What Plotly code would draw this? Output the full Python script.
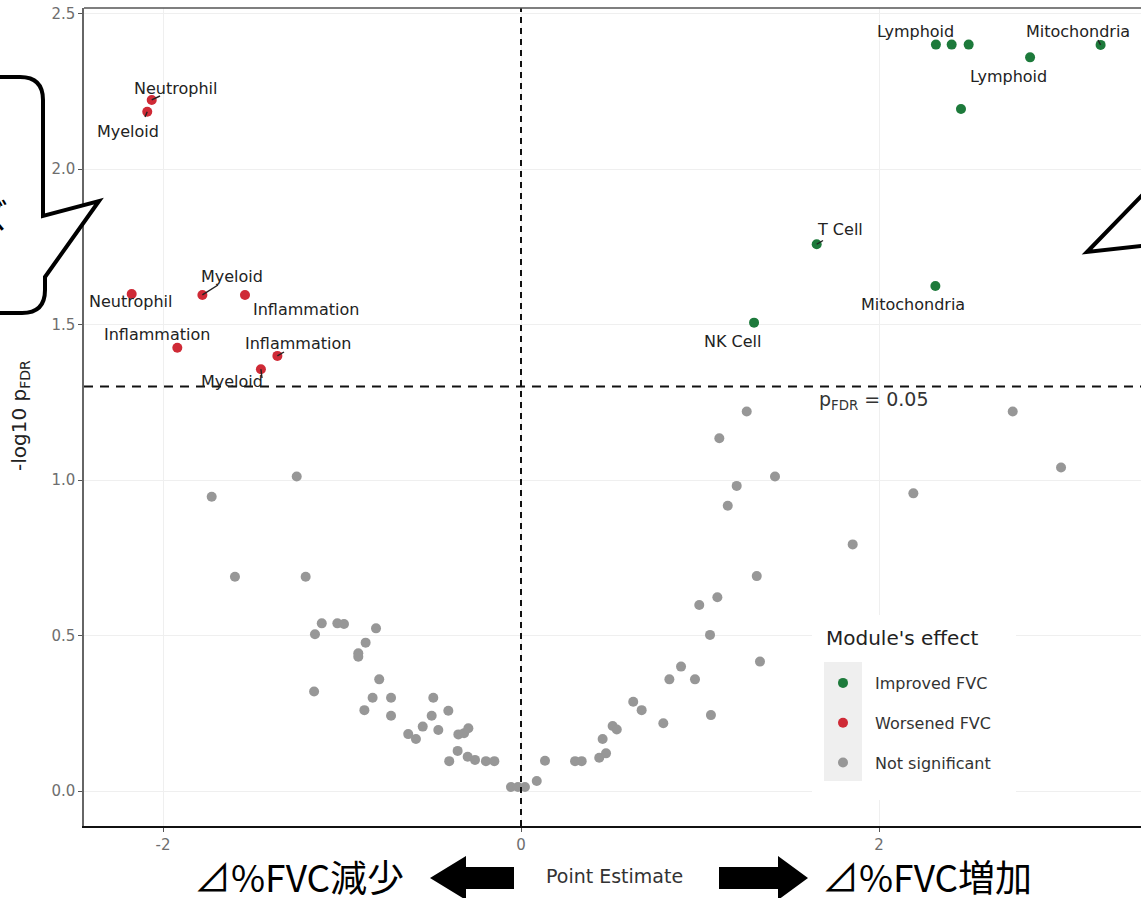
import math
import plotly.graph_objects as go

# ---------------- data ----------------
gray_x = [-1.728, -1.253, -1.598, -1.203, -1.113, -1.151, -1.026, -0.989, -0.810, -0.868,
          -0.909, -0.909, -1.156, -0.792, -0.829, -0.726, -0.875, -0.726, -0.490, -0.499,
          -0.406, -0.549, -0.462, -0.630, -0.587, -0.350, -0.318, -0.294, -0.354, -0.401,
          -0.298, -0.257, -0.196, -0.149,
          -0.056, -0.017, 0.022, 0.088, 0.134,
          0.302, 0.339, 0.437, 0.475, 0.456, 0.512, 0.535, 0.627, 0.674, 0.795,
          0.829, 0.894, 0.972, 1.061, 1.056, 0.996, 1.097, 1.335, 1.317, 1.261,
          1.108, 1.419, 1.205, 1.155, 1.853, 2.192, 2.747, 3.017]
gray_y = [0.946, 1.011, 0.689, 0.689, 0.539, 0.504, 0.539, 0.537, 0.523, 0.477,
          0.443, 0.432, 0.320, 0.359, 0.300, 0.300, 0.260, 0.242, 0.300, 0.242,
          0.258, 0.207, 0.196, 0.183, 0.167, 0.182, 0.186, 0.202, 0.129, 0.096,
          0.110, 0.100, 0.096, 0.096,
          0.013, 0.013, 0.013, 0.032, 0.097,
          0.096, 0.096, 0.107, 0.121, 0.167, 0.209, 0.198, 0.287, 0.260, 0.218,
          0.359, 0.400, 0.359, 0.244, 0.502, 0.598, 0.623, 0.416, 0.691, 1.220,
          1.134, 1.011, 0.981, 0.917, 0.793, 0.957, 1.220, 1.040]

red_x = [-2.063, -2.088, -2.175, -1.780, -1.542, -1.920, -1.361, -1.453]
red_y = [2.222, 2.184, 1.598, 1.595, 1.595, 1.425, 1.399, 1.356]
red_labels = ["Neutrophil", "Myeloid", "Neutrophil", "Myeloid", "Inflammation",
              "Inflammation", "Inflammation", "Myeloid"]

green_x = [2.318, 2.406, 2.501, 3.238, 2.844, 2.458, 1.652, 2.315, 1.302]
green_y = [2.400, 2.400, 2.400, 2.399, 2.359, 2.193, 1.758, 1.624, 1.506]
green_labels = ["Lymphoid", "", "", "Mitochondria", "Lymphoid", "", "T Cell",
                "Mitochondria", "NK Cell"]

legend_title = "Module's effect"
legend_names = ["Improved FVC", "Worsened FVC", "Not significant"]
x_ticks = [-2, 0, 2]
y_ticks = [0.0, 0.5, 1.0, 1.5, 2.0, 2.5]
p_threshold = 0.05

# ---------------- layout helpers (positions, not data) ----------------
W, H = 1141, 898
PL, PR, PT, PB = 84, 1141, 8, 826
XPX0, XSCALE = 521.0, 179.0
YPX0, YSCALE = 791.0, 311.0


def xd(px):
    return (px - XPX0) / XSCALE


def yd(py):
    return (YPX0 - py) / YSCALE


def xp(px):
    return (px - PL) / (PR - PL)


def yp(py):
    return (PB - py) / (PB - PT)


red_label_pos = [(175.5, 88), (127.5, 131), (130, 301), (232, 276), (306, 309),
                 (156.5, 334), (298, 343), (232, 381)]
green_label_pos = [(915, 31.5), None, None, (1078, 31.5), (1008, 76), None,
                   (839.5, 229.5), (913, 304.5), (732.5, 341.5)]
red_segs = [(0, (160, 96)), (1, (145, 117)), (3, (218, 285)), (6, (284, 352)), (7, (262, 378))]
green_segs = [(6, (823, 240.5)), (3, (1098, 40))]

fig = go.Figure()

MS = 10
fig.add_trace(go.Scatter(x=green_x, y=green_y, mode="markers", name=legend_names[0],
                         legendgroup="g1", legendrank=1,
                         marker=dict(color="#1d7a3b", size=MS), hoverinfo="skip"))
fig.add_trace(go.Scatter(x=red_x, y=red_y, mode="markers", name=legend_names[1],
                         legendgroup="g2", legendrank=2,
                         marker=dict(color="#cf2a36", size=MS), hoverinfo="skip"))
fig.add_trace(go.Scatter(x=gray_x, y=gray_y, mode="markers", name=legend_names[2],
                         legendgroup="g3", legendrank=3,
                         marker=dict(color="#979797", size=MS), hoverinfo="skip"))

annotations = []
shapes = []

LBL_FONT = dict(family="DejaVu Sans", size=16, color="#222222")
for lab, pos in zip(red_labels, red_label_pos):
    annotations.append(dict(x=xd(pos[0]), y=yd(pos[1]), xref="x", yref="y", text=lab,
                            showarrow=False, font=LBL_FONT, xanchor="center", yanchor="middle"))
for lab, pos in zip(green_labels, green_label_pos):
    if pos is None or not lab:
        continue
    annotations.append(dict(x=xd(pos[0]), y=yd(pos[1]), xref="x", yref="y", text=lab,
                            showarrow=False, font=LBL_FONT, xanchor="center", yanchor="middle"))
for i, end in red_segs:
    shapes.append(dict(type="line", xref="x", yref="y", x0=red_x[i], y0=red_y[i],
                       x1=xd(end[0]), y1=yd(end[1]), line=dict(color="#222222", width=1.4),
                       layer="above"))
for i, end in green_segs:
    shapes.append(dict(type="line", xref="x", yref="y", x0=green_x[i], y0=green_y[i],
                       x1=xd(end[0]), y1=yd(end[1]), line=dict(color="#222222", width=1.4),
                       layer="above"))

# threshold lines
thr = -math.log10(p_threshold)
shapes.append(dict(type="line", xref="paper", yref="y", x0=0, x1=1, y0=thr, y1=thr,
                   line=dict(color="#111111", width=2, dash="9px,7px"), layer="above"))
shapes.append(dict(type="line", xref="x", yref="paper", x0=0, x1=0, y0=0, y1=1,
                   line=dict(color="#111111", width=2, dash="6px,5px"), layer="above"))
annotations.append(dict(x=xd(874), y=yd(400), xref="x", yref="y",
                        text="p<sub>FDR</sub> = 0.05", showarrow=False,
                        xanchor="center", yanchor="middle",
                        font=dict(family="DejaVu Sans", size=19, color="#333333")))

# legend background + key column + title
shapes.append(dict(type="rect", xref="paper", yref="paper", x0=xp(812), x1=xp(1016),
                   y0=yp(800), y1=yp(615), fillcolor="white", line=dict(width=0), layer="above"))
shapes.append(dict(type="rect", xref="paper", yref="paper", x0=xp(824), x1=xp(862),
                   y0=yp(781), y1=yp(662), fillcolor="#efefef", line=dict(width=0), layer="above"))
annotations.append(dict(x=xp(824), y=yp(638), xref="paper", yref="paper", text=legend_title,
                        showarrow=False, xanchor="left", yanchor="middle",
                        font=dict(family="DejaVu Sans", size=20, color="#222222")))

# top panel border
shapes.append(dict(type="line", xref="paper", yref="paper", x0=0, x1=1, y0=1, y1=1,
                   line=dict(color="#555555", width=1.5)))

# axis titles
annotations.append(dict(x=xp(20), y=yp(416), xref="paper", yref="paper",
                        text="-log10 p<sub>FDR</sub>", textangle=-90, showarrow=False,
                        xanchor="center", yanchor="middle",
                        font=dict(family="DejaVu Sans", size=20, color="#222222")))
annotations.append(dict(x=xp(614), y=yp(876), xref="paper", yref="paper",
                        text="Point Estimate", showarrow=False,
                        xanchor="center", yanchor="middle",
                        font=dict(family="DejaVu Sans", size=19, color="#333333")))

# Japanese captions
JP = dict(family="Noto Sans CJK JP", size=37, color="#000000")
annotations.append(dict(x=xp(299), y=yp(876), xref="paper", yref="paper",
                        text="⊿%FVC減少", showarrow=False, xanchor="center", yanchor="middle",
                        font=JP))
annotations.append(dict(x=xp(927), y=yp(876), xref="paper", yref="paper",
                        text="⊿%FVC増加", showarrow=False, xanchor="center", yanchor="middle",
                        font=JP))


def poly(pts):
    return "M " + " L ".join(f"{xp(a):.5f},{yp(b):.5f}" for a, b in pts) + " Z"


left_arrow = [(430, 878), (466, 856), (466, 867), (514, 867), (514, 889), (466, 889), (466, 900)]
right_arrow = [(808, 878), (778, 856), (778, 867), (719, 867), (719, 889), (778, 889), (778, 900)]
for pts in (left_arrow, right_arrow):
    shapes.append(dict(type="path", xref="paper", yref="paper", path=poly(pts),
                       fillcolor="black", line=dict(color="black", width=0)))

# speech bubbles (partial, cropped by the frame)
bub = (f"M {xp(-20):.5f},{yp(77):.5f} L {xp(20):.5f},{yp(77):.5f} "
       f"Q {xp(43):.5f},{yp(77):.5f} {xp(43):.5f},{yp(100):.5f} "
       f"L {xp(43):.5f},{yp(216):.5f} L {xp(99):.5f},{yp(201):.5f} "
       f"L {xp(45):.5f},{yp(277):.5f} L {xp(45):.5f},{yp(290):.5f} "
       f"Q {xp(45):.5f},{yp(313):.5f} {xp(22):.5f},{yp(313):.5f} "
       f"L {xp(-20):.5f},{yp(313):.5f} Z")
shapes.append(dict(type="path", xref="paper", yref="paper", path=bub, fillcolor="white",
                   line=dict(color="black", width=4), layer="above"))
bub2 = (f"M {xp(1150):.5f},{yp(187):.5f} L {xp(1087):.5f},{yp(252):.5f} "
        f"L {xp(1150):.5f},{yp(245):.5f}")
shapes.append(dict(type="path", xref="paper", yref="paper", path=bub2,
                   line=dict(color="black", width=4), layer="above"))
annotations.append(dict(x=xp(10), y=yp(214), xref="paper", yref="paper", text="ズ",
                        showarrow=False, xanchor="right", yanchor="middle",
                        font=dict(family="Noto Sans CJK JP", size=34, color="black")))

TICKFONT = dict(family="DejaVu Sans", size=15, color="#6e6e6e")
fig.update_layout(
    width=W, height=H, autosize=False,
    margin=dict(l=PL, r=W - PR, t=PT, b=H - PB),
    plot_bgcolor="white", paper_bgcolor="white",
    showlegend=True,
    legend=dict(x=xp(811), y=yp(666), xanchor="left", yanchor="top",
                bgcolor="rgba(0,0,0,0)", tracegroupgap=16, itemwidth=54,
                font=dict(family="DejaVu Sans", size=16, color="#333333")),
    xaxis=dict(range=[xd(PL), xd(PR)], tickvals=x_ticks, ticktext=[str(v) for v in x_ticks],
               showgrid=True, gridcolor="#efefef", gridwidth=1.2, zeroline=False,
               showline=True, linecolor="#111111", linewidth=2,
               ticks="outside", ticklen=4, tickcolor="#555555", tickfont=TICKFONT),
    yaxis=dict(range=[yd(PB), yd(PT)], tickvals=y_ticks, ticktext=[f"{v:.1f}" for v in y_ticks],
               showgrid=True, gridcolor="#efefef", gridwidth=1.2, zeroline=False,
               showline=True, linecolor="#666666", linewidth=1.5,
               ticks="outside", ticklen=4, tickcolor="#555555", tickfont=TICKFONT),
    annotations=annotations,
    shapes=shapes,
)

fig.write_html("out.html",
               config={"displayModeBar": False},
               post_script="document.body.style.margin='0px';"
                           "document.documentElement.style.overflow='hidden';"
                           "document.body.style.overflow='hidden';")
